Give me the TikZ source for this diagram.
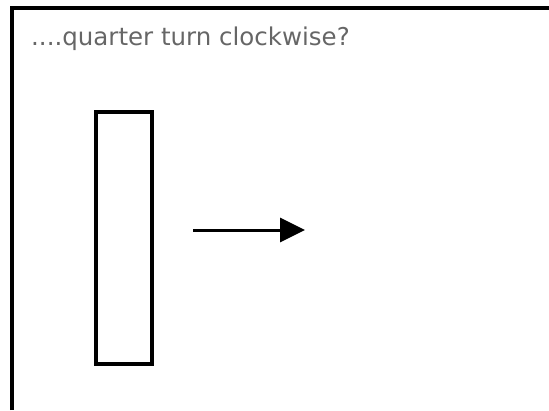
\documentclass[tikz,border=0pt]{standalone}
\usepackage{fontspec}
\setmainfont{DejaVu Sans}
\usetikzlibrary{arrows.meta}

\begin{document}
\begin{tikzpicture}[x=1pt,y=-1pt,
    frameline/.style={line width=4pt},
    turnbox/.style={draw,line width=4pt,inner sep=0pt,minimum width=56pt,minimum height=252pt}]

    \useasboundingbox (0,0) rectangle (549,410);

    \draw[frameline] (12,410) -- (12,8) -- (549,8);

    \node[anchor=base west,text=black!60,font=\fontsize{24.5}{28}\selectfont,inner sep=0pt] (question) at (31,45) {....quarter turn clockwise?};

    \node[turnbox] (bar) at (124,238) {};

    \coordinate (tail) at (193,230);
    \coordinate (tip) at (305,230);
    \draw[line width=3pt,-{Triangle[length=25pt,width=24pt]}] (tail) -- (tip);

\end{tikzpicture}
\end{document}
